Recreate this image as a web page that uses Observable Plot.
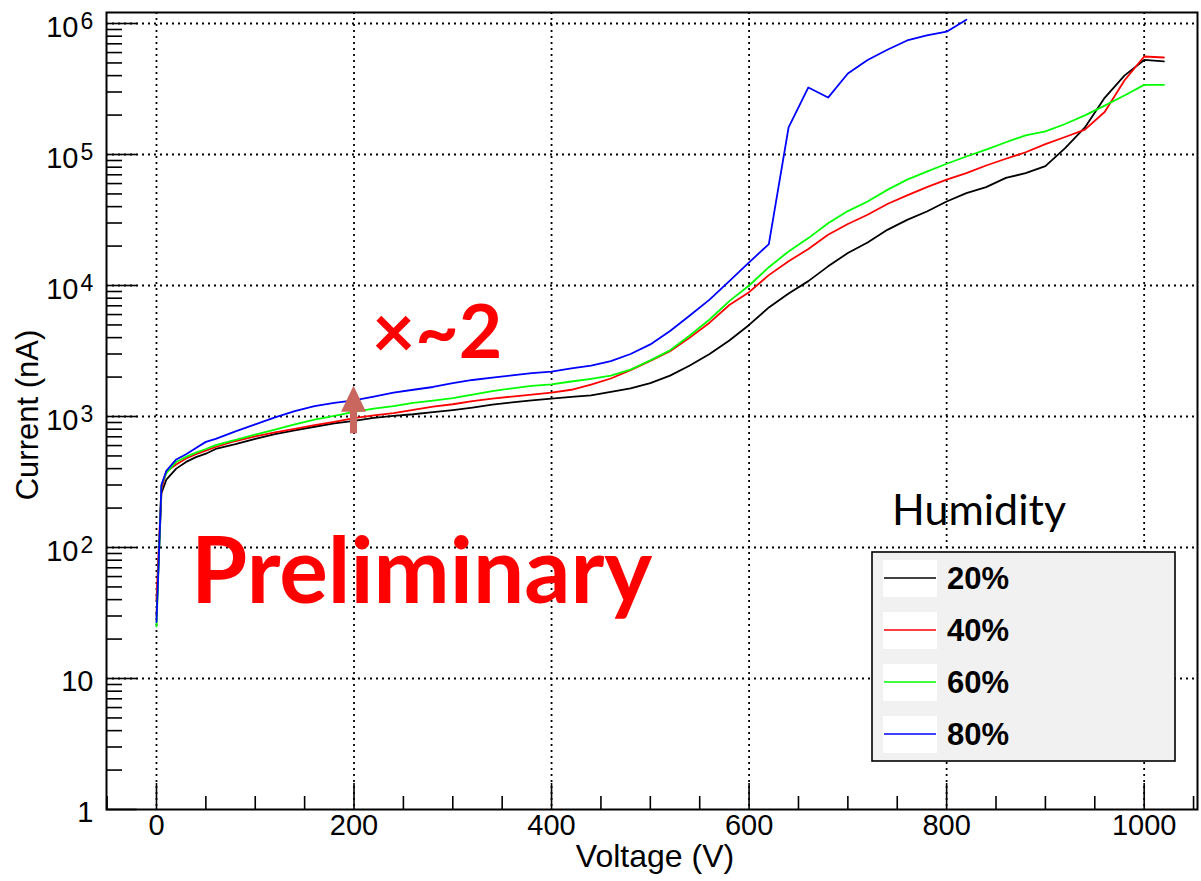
<!DOCTYPE html>
<html>
<head>
<meta charset="utf-8">
<script src="https://cdn.jsdelivr.net/npm/d3@7"></script>
<script src="https://cdn.jsdelivr.net/npm/@observablehq/plot@0.6"></script>
<style>
  html, body { margin: 0; padding: 0; background: #fff; }
  #chart { width: 1201px; height: 881px; }
</style>
</head>
<body>
<div id="chart"></div>
<script>
// ---------------- data ----------------
const voltage = [0, 5, 10, 20, 30, 40, 50, 60,
  80, 100, 120, 140, 160, 180, 200, 220, 240, 260, 280, 300, 320, 340, 360, 380, 400,
  420, 440, 460, 480, 500, 520, 540, 560, 580, 600, 620, 640, 660, 680, 700, 720, 740,
  760, 780, 800, 820, 840, 860, 880, 900, 920, 940, 960, 980, 1000, 1020];

const current20 = [30, 260, 330, 400, 450, 490, 520, 565,
  615, 675, 735, 785, 835, 885, 925, 975, 1010, 1040, 1080, 1120, 1170, 1230, 1280, 1330, 1370,
  1410, 1450, 1540, 1640, 1800, 2050, 2450, 3000, 3800, 5000, 6800, 8700, 10800, 14000, 17700, 21300, 26600,
  31700, 36700, 43800, 50700, 56300, 66300, 72000, 81500, 112000, 161000, 271000, 400000, 527000, 514000];

const current40 = [40, 280, 380, 430, 478, 515, 548, 585,
  650, 705, 758, 806, 858, 910, 970, 1020, 1060, 1125, 1190, 1240, 1310, 1370, 1420, 1470, 1520,
  1600, 1750, 1950, 2260, 2650, 3150, 4000, 5200, 7100, 8900, 12000, 15300, 19000, 24400, 29500, 34700, 41900,
  48700, 56300, 64300, 72000, 82400, 92800, 104000, 120000, 136000, 155000, 211000, 367000, 560000, 550000];

const current60 = [25, 300, 370, 450, 492, 530, 565, 605,
  662, 728, 795, 870, 945, 1010, 1085, 1150, 1200, 1270, 1320, 1380, 1470, 1560, 1640, 1710, 1760,
  1850, 1940, 2050, 2280, 2680, 3200, 4150, 5500, 7600, 10000, 13800, 18200, 23000, 29900, 37000, 43800, 53700,
  64300, 74000, 85000, 96500, 109000, 124000, 140000, 150000, 171000, 199000, 236000, 282000, 340000, 340000];

// 80% humidity run stops at 820 V
const current80 = [27, 300, 385, 470, 515, 575, 640, 675,
  770, 870, 985, 1100, 1200, 1270, 1330, 1420, 1520, 1600, 1680, 1800, 1900, 1980, 2060, 2140, 2200,
  2330, 2450, 2650, 3000, 3550, 4500, 5900, 7800, 10800, 15000, 20700, 161000, 325000, 272000, 415000, 527000, 631000,
  742000, 810000, 866000, 1070000];

const seriesNames = ["20%", "40%", "60%", "80%"];
const seriesColors = ["#000000", "#ff0000", "#00ff00", "#0000ff"];
const seriesValues = [current20, current40, current60, current80];

const xMajorTicks = [0, 200, 400, 600, 800, 1000];
const xMinorTicks = [-50, 50, 100, 150, 250, 300, 350, 450, 500, 550, 650, 700, 750, 850, 900, 950, 1050];
const yMajorTicks = [1, 10, 100, 1000, 10000, 100000, 1000000];
const yTickBase = ["1", "10", "10", "10", "10", "10", "10"];
const yTickExp = ["", "", "2", "3", "4", "5", "6"];
const yMinorTicks = [1, 10, 100, 1000, 10000, 100000].flatMap(d => [2,3,4,5,6,7,8,9].map(k => k * d));

// annotations (data units)
const arrowAt = {V: 200, from: 740, to: 1700};
const factorNote = {V: 218, I: 2820, text: "×~2"};
const prelimNote = {V: 35, I: 38, text: "Preliminary"};

// ---------------- layout ----------------
const W = 1201, H = 881;
const mL = 106, mR = 4, mT = 12, mB = 72;
const plotW = W - mL - mR, plotH = H - mT - mB;

const rows = seriesValues.map((vals, si) =>
  vals.map((I, i) => ({V: voltage[i], I, s: seriesNames[si]}))
);

const font = "'Liberation Sans', Arial, Helvetica, sans-serif";

const plot = Plot.plot({
  width: W, height: H,
  marginLeft: mL, marginRight: mR, marginTop: mT, marginBottom: mB,
  style: {fontFamily: font, background: "white", color: "black"},
  x: {domain: [-50.6, 1054], axis: null},
  y: {type: "log", domain: [1, Math.pow(10, 6 + 11 / 131)], axis: null},
  marks: [
    // grid
    Plot.ruleX(xMajorTicks, {x: d => d, stroke: "black", strokeWidth: 1.8, strokeDasharray: "2,4"}),
    Plot.ruleY(yMajorTicks.slice(1), {y: d => d, stroke: "black", strokeWidth: 1.8, strokeDasharray: "2,4"}),
    // ticks
    Plot.ruleX(xMajorTicks, {x: d => d, insetTop: plotH - 26, stroke: "black", strokeWidth: 1.6}),
    Plot.ruleX(xMinorTicks, {x: d => d, insetTop: plotH - 13, stroke: "black", strokeWidth: 1.6}),
    Plot.ruleY(yMajorTicks, {y: d => d, insetRight: plotW - 31, stroke: "black", strokeWidth: 1.6}),
    Plot.ruleY(yMinorTicks, {y: d => d, insetRight: plotW - 16, stroke: "black", strokeWidth: 1.6}),
    // curves
    ...rows.map((r, i) => Plot.line(r, {x: "V", y: "I", stroke: seriesColors[i], strokeWidth: 1.8})),
    // frame
    Plot.frame({stroke: "black", strokeWidth: 2}),
    // tick labels
    Plot.text(xMajorTicks, {x: d => d, frameAnchor: "bottom", dy: 25, text: d => String(d),
      fontSize: 29, fill: "black"}),
    Plot.text(yMajorTicks.filter((d, i) => yTickExp[i] === ""), {y: d => d, frameAnchor: "left", dx: -13, dy: 3,
      textAnchor: "end", text: d => yTickBase[yMajorTicks.indexOf(d)], fontSize: 29, fill: "black"}),
    Plot.text(yMajorTicks.filter((d, i) => yTickExp[i] !== ""), {y: d => d, frameAnchor: "left", dx: -28, dy: 4.5,
      textAnchor: "end", text: d => yTickBase[yMajorTicks.indexOf(d)], fontSize: 29, fill: "black"}),
    Plot.text(yMajorTicks.filter((d, i) => yTickExp[i] !== ""), {y: d => d, frameAnchor: "left", dx: -26, dy: -2,
      textAnchor: "start", text: d => yTickExp[yMajorTicks.indexOf(d)], fontSize: 23, fill: "black"}),
    // axis titles
    Plot.text(["Voltage (V)"], {frameAnchor: "bottom", textAnchor: "middle", dx: 3, dy: 57, text: d => d,
      fontSize: 32, fill: "black"}),
    Plot.text(["Current (nA)"], {frameAnchor: "left", textAnchor: "middle", dx: -78, dy: 4, rotate: -90,
      text: d => d, fontSize: 31, fill: "black"}),
    // annotations
    Plot.text([prelimNote], {x: "V", y: "I", text: "text", textAnchor: "start", lineAnchor: "bottom",
      fontSize: 91, fontWeight: "bold", fontFamily: "Lato", fill: "#ff0000"}),
    Plot.text([factorNote], {x: "V", y: "I", text: "text", textAnchor: "start", lineAnchor: "bottom",
      fontSize: 75, fontWeight: "bold", fontFamily: "Lato", fill: "#ff0000"})
  ]
});

document.getElementById("chart").appendChild(plot);

// arrow through the plot's scales
const sx = plot.scale("x"), sy = plot.scale("y");
const svg = d3.select(plot);
{
  const x0 = sx.apply(arrowAt.V), yb = sy.apply(arrowAt.from), yt = sy.apply(arrowAt.to);
  const hw = 12.5, sw = 3.5, hl = 26;
  const pts = [[x0 - sw, yb], [x0 + sw, yb], [x0 + sw, yt + hl], [x0 + hw, yt + hl], [x0, yt],
               [x0 - hw, yt + hl], [x0 - sw, yt + hl]];
  svg.append("polygon").attr("points", pts.map(p => p.join(",")).join(" "))
    .attr("fill", "#c9675f");
}

// legend
{
  const g = svg.append("g").attr("text-anchor", "start");
  g.append("text").attr("x", 892).attr("y", 525).text("Humidity").attr("text-anchor", "start")
    .attr("font-family", "Lato").attr("font-size", 43).attr("fill", "black");
  g.append("rect").attr("x", 872).attr("y", 552).attr("width", 303).attr("height", 209)
    .attr("fill", "#f1f1f1").attr("stroke", "black").attr("stroke-width", 1.6);
  seriesNames.forEach((name, i) => {
    const cy = 578 + i * 52;
    g.append("rect").attr("x", 883).attr("y", cy - 18).attr("width", 54).attr("height", 37).attr("fill", "white");
    g.append("line").attr("x1", 884).attr("x2", 936).attr("y1", cy).attr("y2", cy)
      .attr("stroke", seriesColors[i]).attr("stroke-width", 1.7);
    g.append("text").attr("x", 947).attr("y", cy + 11).text(name).attr("text-anchor", "start")
      .attr("font-family", font).attr("font-weight", "bold").attr("font-size", 31).attr("fill", "black");
  });
}
</script>
</body>
</html>
